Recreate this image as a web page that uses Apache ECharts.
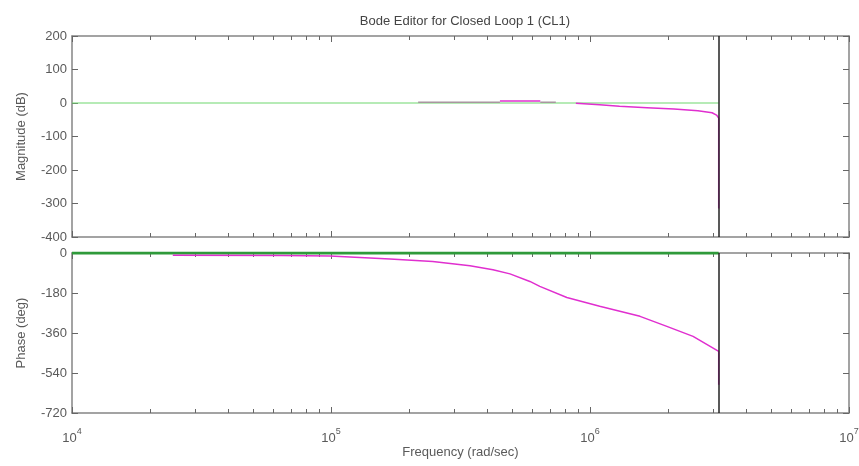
<!DOCTYPE html>
<html>
<head>
<meta charset="utf-8">
<script src="https://cdn.jsdelivr.net/npm/echarts@6/dist/echarts.min.js"></script>
<style>
  html, body { margin: 0; padding: 0; background: #ffffff; }
  #chart { width: 859px; height: 466px; }
</style>
</head>
<body>
<div id="chart"></div>
<script>
// Texts
const titleText = 'Bode Editor for Closed Loop 1 (CL1)';
const freqName = 'Frequency (rad/sec)';
const magName = 'Magnitude (dB)';
const phaseName = 'Phase (deg)';

// Frequency decades (rad/sec) carrying labels
const freqDecades = [1e4, 1e5, 1e6, 1e7];
// Magnitude / phase axis ranges and steps
const magRange = [-400, 200];
const magStep = 100;
const phaseRange = [-720, 0];
const phaseStep = 180;

// Marker frequency (vertical black line)
const markerFreq = 3.14e6;

// Closed-loop magnitude response [rad/sec, dB]
const magFlatLow = [[2.17e5, 2], [4.49e5, 2]];
const magHump = [[4.49e5, 6], [6.43e5, 6]];
const magFlatMid = [[6.43e5, 2], [7.38e5, 2]];
const magRolloff = [
  [8.82e5, -0.5], [1.09e6, -5], [1.30e6, -10], [1.66e6, -14], [2.11e6, -18],
  [2.61e6, -23], [2.96e6, -29], [3.08e6, -36], [3.14e6, -45], [3.14e6, -315]
];

// Closed-loop phase response [rad/sec, deg]
const phase = [
  [2.45e4, -10], [6.43e4, -11], [6.45e4, -13.5], [9.9e4, -14], [1.0e5, -19],
  [1.69e5, -27], [2.47e5, -38], [3.44e5, -57], [4.22e5, -75], [4.91e5, -94],
  [5.86e5, -128], [6.40e5, -150], [8.14e5, -200], [1.09e6, -240], [1.56e6, -285],
  [1.98e6, -330], [2.50e6, -375], [3.14e6, -443], [3.14e6, -593]
];

// Reference (0 dB / 0 deg) lines
const magRef = [[1e4, 0], [3.14e6, 0]];
const phaseRef = [[1e4, 0], [3.14e6, 0]];

// Minor log ticks 2..9 within each decade
const minorTicks = [];
for (let d = 0; d < freqDecades.length - 1; d++) {
  for (let k = 2; k <= 9; k++) minorTicks.push(k * freqDecades[d]);
}

const FONT = 'Liberation Sans, Arial, sans-serif';
const AXIS_COLOR = '#858585';
const TEXT_COLOR = '#5a5a5a';
const MAGENTA = '#e02fcf';

function xAxesFor(gridIndex, withLabels) {
  const base = {
    type: 'log', logBase: 10, gridIndex: gridIndex,
    min: freqDecades[0], max: freqDecades[freqDecades.length - 1],
    splitLine: { show: false }
  };
  const major = (pos) => Object.assign({}, base, {
    position: pos,
    axisLine: { show: true, onZero: false, lineStyle: { color: AXIS_COLOR, width: 1.5 } },
    axisTick: { show: true, inside: true, length: 6, customValues: freqDecades,
                lineStyle: { color: '#666', width: 1 } },
    axisLabel: (withLabels && pos === 'bottom') ? {
      show: true, customValues: freqDecades, margin: 14,
      formatter: (v) => '{b|10}{s|' + Math.round(Math.log10(v)) + '}',
      rich: {
        b: { fontSize: 13, fontFamily: FONT, color: TEXT_COLOR, lineHeight: 18, verticalAlign: 'bottom' },
        s: { fontSize: 9, fontFamily: FONT, color: TEXT_COLOR, verticalAlign: 'top' }
      }
    } : { show: false },
    name: (withLabels && pos === 'bottom') ? freqName : '',
    nameLocation: 'middle', nameGap: 32,
    nameTextStyle: { fontSize: 13, fontFamily: FONT, color: TEXT_COLOR }
  });
  const minor = (pos) => Object.assign({}, base, {
    position: pos,
    axisLine: { show: false, onZero: false },
    axisTick: { show: true, inside: true, length: 4, customValues: minorTicks,
                lineStyle: { color: '#666', width: 1 } },
    axisLabel: { show: false }
  });
  return [major('bottom'), minor('bottom'), major('top'), minor('top')];
}

function yAxesFor(gridIndex, range, step, name) {
  const base = {
    type: 'value', gridIndex: gridIndex, min: range[0], max: range[1], interval: step,
    splitLine: { show: false },
    axisLine: { show: true, onZero: false, lineStyle: { color: AXIS_COLOR, width: 1.5 } },
    axisTick: { show: true, inside: true, length: 6, lineStyle: { color: '#666', width: 1 } }
  };
  return [
    Object.assign({}, base, {
      position: 'left',
      axisLabel: { show: true, fontSize: 13, fontFamily: FONT, color: TEXT_COLOR, margin: 5 },
      name: name, nameLocation: 'middle', nameGap: 44,
      nameTextStyle: { fontSize: 13, fontFamily: FONT, color: TEXT_COLOR }
    }),
    Object.assign({}, base, { position: 'right', axisLabel: { show: false } })
  ];
}

const chart = echarts.init(document.getElementById('chart'), null, { renderer: 'canvas' });

const lineBase = { type: 'line', symbol: 'none', showSymbol: false, animation: false, silent: true };

chart.setOption({
  animation: false,
  backgroundColor: '#ffffff',
  title: {
    text: titleText, left: 460, top: 10, textAlign: 'center',
    textStyle: { fontSize: 13, fontWeight: 'normal', fontFamily: FONT, color: '#444' }
  },
  grid: [
    { left: 72, right: 10, top: 36, height: 201, containLabel: false, outerBoundsMode: 'none' },
    { left: 72, right: 10, top: 253, height: 160, containLabel: false, outerBoundsMode: 'none' }
  ],
  xAxis: [].concat(xAxesFor(0, false), xAxesFor(1, true)),
  yAxis: [].concat(
    yAxesFor(0, magRange, magStep, magName),
    yAxesFor(1, phaseRange, phaseStep, phaseName)
  ),
  series: [
    // marker line through both panels
    Object.assign({}, lineBase, {
      name: 'markerMag', xAxisIndex: 0, yAxisIndex: 0, data: [], z: 1,
      markLine: { silent: true, symbol: 'none', label: { show: false }, animation: false,
        lineStyle: { color: '#222', width: 1.5, type: 'solid' }, data: [{ xAxis: markerFreq }] }
    }),
    Object.assign({}, lineBase, {
      name: 'markerPhase', xAxisIndex: 4, yAxisIndex: 2, data: [], z: 1,
      markLine: { silent: true, symbol: 'none', label: { show: false }, animation: false,
        lineStyle: { color: '#222', width: 1.5, type: 'solid' }, data: [{ xAxis: markerFreq }] }
    }),
    // reference lines
    Object.assign({}, lineBase, {
      name: 'magRef', xAxisIndex: 0, yAxisIndex: 0, data: magRef, z: 2,
      lineStyle: { color: '#6fd86f', width: 1.2 }
    }),
    Object.assign({}, lineBase, {
      name: 'phaseRef', xAxisIndex: 4, yAxisIndex: 2, data: phaseRef, z: 2,
      lineStyle: { color: '#2f9a3a', width: 3 }
    }),
    // magnitude
    Object.assign({}, lineBase, {
      name: 'magFlatLow', xAxisIndex: 0, yAxisIndex: 0, data: magFlatLow, z: 3,
      lineStyle: { color: '#a8969f', width: 1.5 }
    }),
    Object.assign({}, lineBase, {
      name: 'magFlatMid', xAxisIndex: 0, yAxisIndex: 0, data: magFlatMid, z: 3,
      lineStyle: { color: '#a8969f', width: 1.5 }
    }),
    Object.assign({}, lineBase, {
      name: 'magHump', xAxisIndex: 0, yAxisIndex: 0, data: magHump, z: 3,
      lineStyle: { color: MAGENTA, width: 1.5 }
    }),
    Object.assign({}, lineBase, {
      name: 'magRolloff', xAxisIndex: 0, yAxisIndex: 0, data: magRolloff, z: 3,
      lineStyle: { color: MAGENTA, width: 1.5 }
    }),
    // phase
    Object.assign({}, lineBase, {
      name: 'phase', xAxisIndex: 4, yAxisIndex: 2, data: phase, z: 3,
      lineStyle: { color: MAGENTA, width: 1.5 }
    })
  ]
});
</script>
</body>
</html>
